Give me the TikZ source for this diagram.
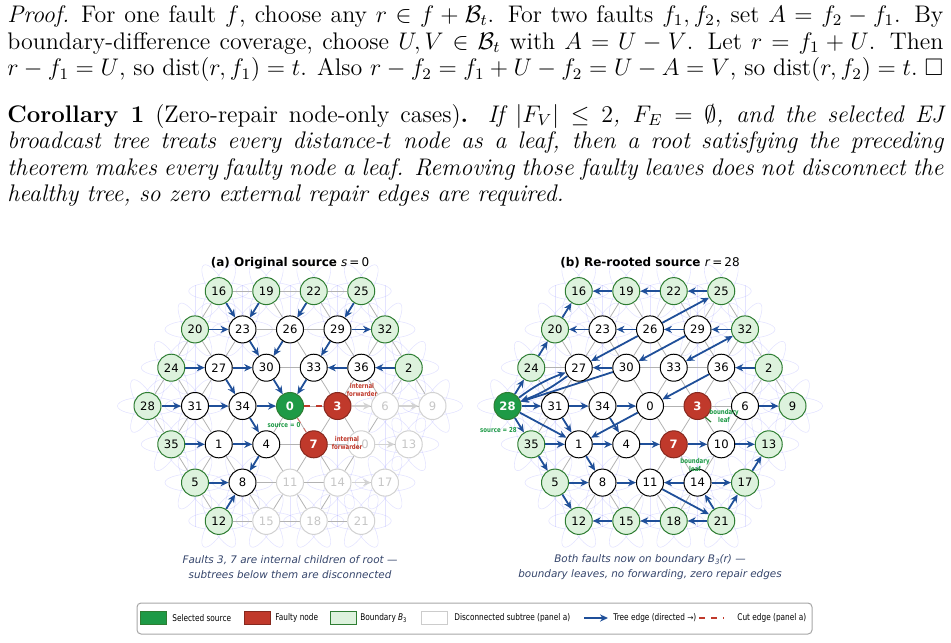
\documentclass[tikz,border=0pt]{standalone}
\usepackage{fontspec}
\usepackage{amssymb}
\newfontfamily\dv{DejaVu Sans}
\newfontfamily\dvc{DejaVu Sans}[FakeStretch=0.8]
\usetikzlibrary{arrows.meta}
\pgfdeclarelayer{bg}
\pgfdeclarelayer{bgg}
\pgfsetlayers{bgg,bg,main}
\definecolor{treeblue}{HTML}{1F4F99}
\definecolor{bgreen}{HTML}{2E7D32}
\definecolor{bfill}{HTML}{DDF2DD}
\definecolor{srcg}{HTML}{1E9A46}
\definecolor{fred}{HTML}{C0392B}
\definecolor{capc}{HTML}{34446A}
\begin{document}
\begin{tikzpicture}[x=0.5pt,y=-0.5pt,
  nd/.style={circle,draw=black,line width=0.5pt,fill=white,minimum size=13.5pt,inner sep=0pt,font=\dv\fontsize{5.8}{6}\selectfont},
  bnd/.style={nd,fill=bfill,draw=bgreen},
  dis/.style={nd,draw=gray!35,text=gray!45},
  src/.style={nd,fill=srcg,draw=bgreen,text=white,font=\dv\bfseries\fontsize{5.8}{6}\selectfont},
  flt/.style={nd,fill=fred,draw=fred!70!black,text=white,font=\dv\bfseries\fontsize{5.8}{6}\selectfont},
  latt/.style={gray!60,line width=0.4pt},
  tr/.style={-{Stealth[length=4pt,width=3.6pt]},line width=0.9pt,treeblue},
  gtr/.style={-{Stealth[length=4pt,width=3.6pt]},line width=0.8pt,gray!35},
  wrap/.style={blue!35,opacity=0.3,line width=0.3pt},
  lab/.style={font=\dvc\bfseries\fontsize{3.4}{3.8}\selectfont,align=center,inner sep=0pt}]
\useasboundingbox (0,0) rectangle (951,642);
% text
\node[anchor=north west,inner sep=0pt,text width=468pt,align=justify,font=\fontsize{12}{13.4}\selectfont] at (7,5) {\textit{Proof.}\enspace For one fault $f$, choose any $r\in f+\mathcal{B}_t$. For two faults $f_1,f_2$, set $A=f_2-f_1$. By\linebreak boundary-difference coverage, choose $U,V\in\mathcal{B}_t$ with $A=U-V$. Let $r=f_1+U$. Then\linebreak $r-f_1=U$, so $\mathrm{dist}(r,f_1)=t$. Also $r-f_2=f_1+U-f_2=U-A=V$, so $\mathrm{dist}(r,f_2)=t$.\hfill$\square$};
\node[anchor=north west,inner sep=0pt,text width=468pt,align=justify,font=\fontsize{12}{13.2}\selectfont] at (7,104) {\textbf{Corollary 1} (Zero-repair node-only cases)\textbf{.} \textit{If $|F_V|\le 2$, $F_E=\emptyset$, and the selected EJ\linebreak broadcast tree treats every distance-$t$ node as a leaf, then a root satisfying the preceding\linebreak theorem makes every faulty node a leaf. Removing those faulty leaves does not disconnect the\linebreak healthy tree, so zero external repair edges are required.}};
% lattice data
\foreach \r/\lst in {0/{16,19,22,25},1/{20,23,26,29,32},2/{24,27,30,33,36,2},3/{28,31,34,0,3,6,9},4/{35,1,4,7,10,13},5/{5,8,11,14,17},6/{12,15,18,21}}{
  \pgfmathtruncatemacro\n{7-abs(\r-3)}
  \foreach \lab [count=\ci from 0] in \lst {
    \pgfmathsetmacro\xx{(\ci-(\n-1)/2)*47.5}
    \pgfmathsetmacro\yy{(\r-3)*38.3}
    \expandafter\xdef\csname L\r-\ci\endcsname{\lab}
    \expandafter\xdef\csname X\lab\endcsname{\xx}
    \expandafter\xdef\csname Y\lab\endcsname{\yy}
    \expandafter\gdef\csname SA\lab\endcsname{nd}
    \expandafter\gdef\csname SB\lab\endcsname{nd}
  }}
\foreach \l in {16,19,22,25,20,32,24,2,28,35,5,12}{\expandafter\gdef\csname SA\l\endcsname{bnd}}
\foreach \l in {6,9,10,13,11,14,17,15,18,21}{\expandafter\gdef\csname SA\l\endcsname{dis}}
\expandafter\gdef\csname SA0\endcsname{src}
\expandafter\gdef\csname SA3\endcsname{flt}
\expandafter\gdef\csname SA7\endcsname{flt}
\foreach \l in {16,19,22,25,20,32,24,2,9,35,13,5,17,12,15,18,21}{\expandafter\gdef\csname SB\l\endcsname{bnd}}
\expandafter\gdef\csname SB28\endcsname{src}
\expandafter\gdef\csname SB3\endcsname{flt}
\expandafter\gdef\csname SB7\endcsname{flt}
% nodes
\foreach \lab in {16,19,22,25,20,23,26,29,32,24,27,30,33,36,2,28,31,34,0,3,6,9,35,1,4,7,10,13,5,8,11,14,17,12,15,18,21}{
  \pgfmathsetmacro\ax{\csname X\lab\endcsname+290}
  \pgfmathsetmacro\bx{\csname X\lab\endcsname+650}
  \pgfmathsetmacro\yy{\csname Y\lab\endcsname+406}
  \edef\sa{\csname SA\lab\endcsname}\edef\sb{\csname SB\lab\endcsname}
  \edef\tmp{\noexpand\node[\sa] (a\lab) at (\ax,\yy) {\lab};
    \noexpand\node[\sb] (b\lab) at (\bx,\yy) {\lab};}\tmp
}
% faint wrap loops
\begin{pgfonlayer}{bgg}
\foreach \lab in {16,19,22,25,20,32,24,2,28,9,35,13,5,17,12,15,18,21,23,29,31,6,8,14}{
  \pgfmathsetmacro\ax{\csname X\lab\endcsname+290}
  \pgfmathsetmacro\bx{\csname X\lab\endcsname+650}
  \pgfmathsetmacro\yy{\csname Y\lab\endcsname+406}
  \foreach \rot in {0,60,120}{
    \draw[wrap] (\ax,\yy) ellipse[x radius=30,y radius=9,rotate=\rot];
    \draw[wrap] (\bx,\yy) ellipse[x radius=30,y radius=9,rotate=\rot];}
}
\foreach \xx in {-95,-47.5,0,47.5,95}{
  \draw[wrap] (290+\xx,285)--(290+\xx,527);
  \draw[wrap] (650+\xx,285)--(650+\xx,527);}
\end{pgfonlayer}
% lattice
\begin{pgfonlayer}{bg}
\foreach \r in {0,...,6}{
  \pgfmathtruncatemacro\m{5-abs(\r-3)}
  \foreach \c in {0,...,\m}{
    \pgfmathtruncatemacro\cc{\c+1}
    \edef\u{\csname L\r-\c\endcsname}\edef\v{\csname L\r-\cc\endcsname}
    \draw[latt] (a\u)--(a\v); \draw[latt] (b\u)--(b\v);}}
\foreach \r in {0,1,2}{
  \pgfmathtruncatemacro\m{3+\r}\pgfmathtruncatemacro\ra{\r+1}
  \foreach \c in {0,...,\m}{
    \pgfmathtruncatemacro\cc{\c+1}
    \edef\u{\csname L\r-\c\endcsname}\edef\v{\csname L\ra-\c\endcsname}\edef\w{\csname L\ra-\cc\endcsname}
    \draw[latt] (a\u)--(a\v); \draw[latt] (b\u)--(b\v);
    \draw[latt] (a\u)--(a\w); \draw[latt] (b\u)--(b\w);}}
\foreach \r in {3,4,5}{
  \pgfmathtruncatemacro\ra{\r+1}\pgfmathtruncatemacro\m{8-\r-1}
  \foreach \c in {0,...,\m}{
    \pgfmathtruncatemacro\cc{\c+1}
    \edef\u{\csname L\ra-\c\endcsname}\edef\v{\csname L\r-\c\endcsname}\edef\w{\csname L\r-\cc\endcsname}
    \draw[latt] (a\u)--(a\v); \draw[latt] (b\u)--(b\v);
    \draw[latt] (a\u)--(a\w); \draw[latt] (b\u)--(b\w);}}
% panel a tree
\foreach \s/\t in {16/23,19/23,22/26,25/29,20/23,29/32,23/30,26/30,29/33,24/27,27/30,36/33,2/36,27/34,30/0,33/0,28/31,31/34,34/0,34/4,35/1,1/4,4/8,5/8,12/8}
  \draw[tr] (a\s)--(a\t);
\foreach \s/\t in {3/6,6/9,10/13,14/17} \draw[gtr] (a\s)--(a\t);
\draw[fred,dashed,line width=0.9pt] (a0)--(a3);
\draw[fred!70,dashed,line width=0.5pt] (a0)--(a7);
% panel b tree
\foreach \s/\t in {19/16,22/19,25/22,23/20,26/23,29/26,32/29,26/25,26/27,29/30,30/27,2/36,36/0,30/28,28/1,0/1,31/1,28/31,28/24,24/20,20/16,28/35,35/5,5/12,35/1,1/8,1/4,31/34,34/0,34/4,4/7,7/10,10/13,5/8,8/11,14/11,14/17,17/13,21/17,21/14,11/21,21/18,18/15,15/12,6/9}
  \draw[tr] (b\s)--(b\t);
\draw[tr] (b28) to[bend left=8] (b27);
\draw[tr] (b27) to[bend left=8] (b28);
\draw[tr,{Stealth[length=4pt,width=3.6pt]}-{Stealth[length=4pt,width=3.6pt]}] (b33)--(b32);
\end{pgfonlayer}
% labels
\node[lab,text=fred] at (362,390) {internal\\forwarder};
\node[lab,text=fred] at (347,443) {internal\\forwarder};
\node[lab,text=srcg] at (284,425) {source = 0};
\node[lab,text=srcg] at (724,416) {boundary\\leaf};
\draw[bgreen,line width=0.6pt] (711,422)--(705,417);
\node[lab,text=srcg] at (695,465) {boundary\\leaf};
\node[lab,text=srcg,anchor=east] at (517,430) {source = 28};
% titles
\node[font=\dv\bfseries\fontsize{6}{7}\selectfont] at (290,263) {(a) Original source \textmd{\textit{s}\,=\,0}};
\node[font=\dv\bfseries\fontsize{6}{7}\selectfont] at (650,263) {(b) Re-rooted source \textmd{\textit{r}\,=\,28}};
\node[font=\dv\itshape\fontsize{5.2}{7.5}\selectfont,text=capc,align=center] at (290,567) {Faults 3, 7 are internal children of root —\\subtrees below them are disconnected};
\node[font=\dv\itshape\fontsize{5.2}{7.5}\selectfont,text=capc,align=center] at (650,567) {Both faults now on boundary \textit{B}\raisebox{-0.4ex}{\fontsize{3.6}{4}\selectfont 3}(\textit{r}) —\\boundary leaves, no forwarding, zero repair edges};
% legend
\node[draw=gray!70,rounded corners=2pt,line width=0.5pt,minimum width=337.5pt,minimum height=15.5pt] (leg) at (474.5,618.5) {};
\tikzset{lt/.style={anchor=west,font=\dvc\fontsize{4.6}{5}\selectfont,inner sep=0pt}}
\node[draw=bgreen,fill=srcg,minimum width=13pt,minimum height=6.5pt,inner sep=0] (s1) at (153,618) {};
\node[lt] (t1) at (172,618) {Selected source};
\node[draw=fred!70!black,fill=fred,minimum width=13pt,minimum height=6.5pt,inner sep=0] (s2) at (257,618) {};
\node[lt] (t2) at (275,618) {Faulty node};
\node[draw=bgreen,fill=bfill,minimum width=13pt,minimum height=6.5pt,inner sep=0] (s3) at (343,618) {};
\node[lt] (t3) at (360,618) {Boundary \textit{B}\raisebox{-0.4ex}{\fontsize{3.2}{3}\selectfont 3}};
\node[draw=gray!40,fill=white,minimum width=13pt,minimum height=6.5pt,inner sep=0] (s4) at (434,618) {};
\node[lt] (t4) at (454,618) {Disconnected subtree (panel a)};
\coordinate (l5a) at (584,618); \coordinate (l5b) at (608,618);
\draw[tr,line width=0.7pt] (l5a)--(l5b);
\node[lt] (t5) at (613,618) {Tree edge (directed {\dv\fontsize{3.7}{4}\selectfont →})};
\coordinate (l6a) at (699,618); \coordinate (l6b) at (724,618);
\draw[fred,dashed,line width=0.7pt] (l6a)--(l6b);
\node[lt] (t6) at (737,618) {Cut edge (panel a)};
\end{tikzpicture}
\end{document}
